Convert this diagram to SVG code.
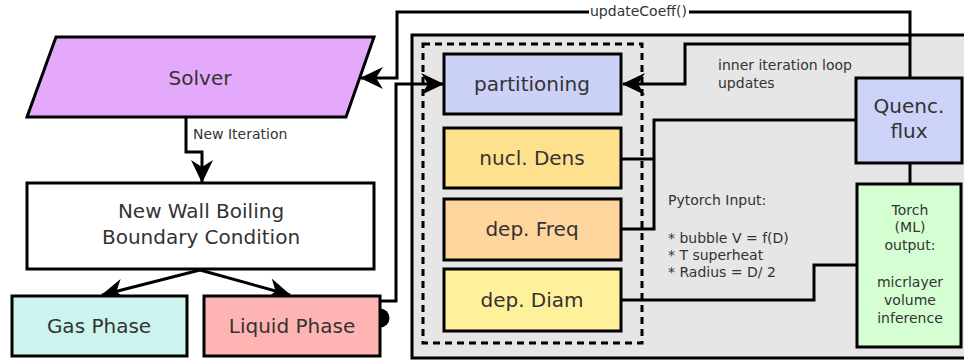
<svg xmlns="http://www.w3.org/2000/svg" width="964" height="360" viewBox="0 0 964 360">
  <style>
    .box { stroke: #000; stroke-width: 3; }
    .lbl { font-family: "DejaVu Sans", Verdana, sans-serif; font-size: 20px; fill: #333; text-anchor: middle; }
    .sm { font-family: "DejaVu Sans", Verdana, sans-serif; font-size: 14px; fill: #333; }
    .smc { text-anchor: middle; }
    .wire { fill: none; stroke: #000; stroke-width: 3; }
  </style>
  <defs>
    <marker id="arrow" markerUnits="userSpaceOnUse" viewBox="-23 -12 25 24" markerWidth="25" markerHeight="24" refX="0" refY="0" orient="auto">
      <path d="M1,0 L-22,-11 L-15,0 L-22,11 Z" fill="#000"/>
    </marker>
  </defs>

  <rect width="964" height="360" fill="#fff"/>

  <!-- model container and dashed sub-model grouping -->
  <g id="model-container">
    <rect x="412" y="35" width="560" height="323" fill="#e6e6e6" stroke="#000" stroke-width="3"/>
    <rect x="423" y="44" width="219" height="299" fill="none" stroke="#000" stroke-width="3" stroke-dasharray="7 5"/>
  </g>

  <!-- connectors -->
  <g id="connectors">
    <path class="wire" d="M910,78 V12 H397 V78 H361" marker-end="url(#arrow)"/>
    <path class="wire" d="M910,44 H685 V84 H623" marker-end="url(#arrow)"/>
    <path class="wire" d="M186,117 V152 H202 V182" marker-end="url(#arrow)"/>
    <path class="wire" d="M200,270 L102,295" marker-end="url(#arrow)"/>
    <path class="wire" d="M200,270 L290,295" marker-end="url(#arrow)"/>
    <path class="wire" d="M380,301 H396 V84 H443" marker-end="url(#arrow)"/>
    <circle cx="380" cy="318" r="9.5" fill="#000"/>
    <path class="wire" d="M856,120 H654 V229 H621 M621,159 H654"/>
    <path class="wire" d="M857,265 H814 V300 H621"/>
    <path class="wire" d="M910,163 V184"/>
    <rect x="589" y="4" width="100" height="16" fill="#fff"/>
    <text class="sm" x="590" y="16">updateCoeff()</text>
    <text class="sm" x="193" y="139">New Iteration</text>
    <text class="sm" x="718" y="70">inner iteration loop</text>
    <text class="sm" x="718" y="88">updates</text>
    <text class="sm" x="668" y="205">Pytorch Input:</text>
    <text class="sm" x="668" y="243">* bubble V = f(D)</text>
    <text class="sm" x="668" y="260">* T superheat</text>
    <text class="sm" x="668" y="277">* Radius = D/ 2</text>
  </g>

  <g id="solver">
    <polygon class="box" points="56,37 374,37 346,117 27,117" fill="#e5a9fb"/>
    <text class="lbl" x="200" y="85">Solver</text>
  </g>

  <g id="wall-bc">
    <rect class="box" x="27" y="183" width="347" height="86" fill="#fff"/>
    <text class="lbl" x="201" y="218">New Wall Boiling</text>
    <text class="lbl" x="201" y="244">Boundary Condition</text>
  </g>

  <g id="gas-phase">
    <rect class="box" x="12" y="296" width="175" height="60" fill="#cdf3ef"/>
    <text class="lbl" x="99" y="333">Gas Phase</text>
  </g>

  <g id="liquid-phase">
    <rect class="box" x="204" y="296" width="176" height="60" fill="#ffb4b4"/>
    <text class="lbl" x="292" y="333">Liquid Phase</text>
  </g>

  <g id="partitioning">
    <rect class="box" x="444" y="54" width="177" height="60" fill="#ccd2f7"/>
    <text class="lbl" x="532" y="91">partitioning</text>
  </g>

  <g id="nucl-dens">
    <rect class="box" x="444" y="128" width="177" height="60" fill="#ffe08d"/>
    <text class="lbl" x="532" y="165">nucl. Dens</text>
  </g>

  <g id="dep-freq">
    <rect class="box" x="444" y="199" width="177" height="61" fill="#ffd59e"/>
    <text class="lbl" x="532" y="236">dep. Freq</text>
  </g>

  <g id="dep-diam">
    <rect class="box" x="444" y="269" width="177" height="62" fill="#fff09b"/>
    <text class="lbl" x="532" y="307">dep. Diam</text>
  </g>

  <g id="quenc-flux">
    <rect class="box" x="856" y="78" width="106" height="85" fill="#cdd2f8"/>
    <text class="lbl" x="909" y="113">Quenc.</text>
    <text class="lbl" x="909" y="138">flux</text>
  </g>

  <g id="torch-output">
    <rect class="box" x="857" y="184" width="104" height="163" fill="#d5ffd2"/>
    <text class="sm smc" x="910" y="215">Torch</text>
    <text class="sm smc" x="910" y="232">(ML)</text>
    <text class="sm smc" x="910" y="250">output:</text>
    <text class="sm smc" x="910" y="287">micrlayer</text>
    <text class="sm smc" x="910" y="305">volume</text>
    <text class="sm smc" x="910" y="323">inference</text>
  </g>
</svg>
